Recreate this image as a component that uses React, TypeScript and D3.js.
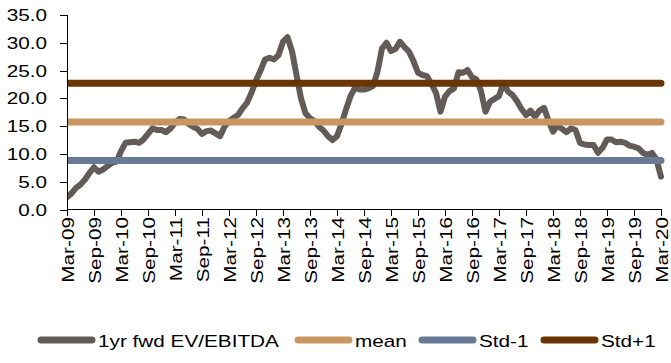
import React from "react";
import * as d3 from "d3";

// Monthly 1yr forward EV/EBITDA, Mar-09 .. Mar-20
const evEbitda: number[] = [
  2.2, 2.9, 3.9, 4.5, 5.4, 6.6, 7.6, 6.8, 7.2, 7.8, 8.4, 8.6,
  10.5, 12.0, 12.1, 12.2, 12.0, 12.6, 13.6, 14.6, 14.3, 14.3, 13.9, 14.6,
  15.6, 16.3, 16.2, 15.4, 14.9, 14.5, 13.6, 14.1, 14.2, 13.7, 13.2, 14.9,
  15.9, 16.5, 17.0, 18.2, 19.2, 21.0, 23.2, 25.0, 27.0, 27.3, 27.0, 27.8,
  30.2, 31.0, 28.5, 24.2, 20.0, 17.3, 16.4, 15.9, 14.9, 14.2, 13.2, 12.5,
  13.2, 15.4, 18.0, 20.4, 21.9, 21.6, 21.6, 21.8, 22.2, 24.8, 29.0, 30.0,
  28.5, 28.9, 30.2, 29.2, 28.4, 26.7, 24.6, 24.2, 24.0, 22.6, 21.0, 17.6,
  20.3, 21.3, 21.8, 24.7, 24.6, 25.1, 23.8, 23.4, 21.3, 17.6, 19.4, 19.9,
  20.4, 22.8, 21.2, 20.6, 19.5, 18.1, 17.0, 17.8, 16.7, 17.8, 18.3, 16.0,
  14.0, 15.1, 14.5, 13.9, 14.6, 14.3, 12.0, 11.7, 11.6, 11.6, 10.2, 11.1,
  12.6, 12.6, 12.1, 12.2, 12.0, 11.5, 11.3, 11.0, 10.2, 9.8, 10.2, 9.0,
  5.9,
];

const meanValue = 15.75;
const stdMinusValue = 8.8;
const stdPlusValue = 22.7;

const xTickLabels: string[] = [
  "Mar-09", "Sep-09", "Mar-10", "Sep-10", "Mar-11", "Sep-11", "Mar-12", "Sep-12",
  "Mar-13", "Sep-13", "Mar-14", "Sep-14", "Mar-15", "Sep-15", "Mar-16", "Sep-16",
  "Mar-17", "Sep-17", "Mar-18", "Sep-18", "Mar-19", "Sep-19", "Mar-20",
];

const yTicks: number[] = [0, 5, 10, 15, 20, 25, 30, 35];

const seriesNames: string[] = ["1yr fwd EV/EBITDA", "mean", "Std-1", "Std+1"];
const seriesColors: string[] = ["#635B57", "#C99661", "#687A96", "#6A3500"];

const W = 671;
const H = 363;
const FONT = "'Liberation Sans', Arial, sans-serif";
const FS = 17;
const STRETCH = 1.22;

export default function App() {
  const x = d3.scaleLinear().domain([0, evEbitda.length - 1]).range([67, 661]);
  const y = d3.scaleLinear().domain([0, 35]).range([209.5, 15]);

  const line = d3
    .line<number>()
    .x((_, i) => x(i))
    .y((d) => y(d));

  const flatLine = (v: number) =>
    line(evEbitda.map(() => v)) as string;

  const levels = [meanValue, stdMinusValue, stdPlusValue];

  const legendX = [38, 295, 419, 541];
  const legendY = 340;

  return (
    <svg
      width={W}
      height={H}
      style={{ position: "absolute", left: 0, top: 0, background: "#fff" }}
      fontFamily={FONT}
    >
      <defs>
        <clipPath id="plot-clip">
          <rect x={67} y={0} width={W - 67} height={215} />
        </clipPath>
      </defs>

      <g clipPath="url(#plot-clip)">
        <path
          d={line(evEbitda) as string}
          fill="none"
          stroke={seriesColors[0]}
          strokeWidth={6}
          strokeLinejoin="round"
          strokeLinecap="round"
        />
        {levels.map((v, k) => (
          <path
            key={k}
            d={flatLine(v)}
            fill="none"
            stroke={seriesColors[k + 1]}
            strokeWidth={7}
            strokeLinecap="round"
          />
        ))}
      </g>

      {/* y axis */}
      <line x1={67.5} x2={67.5} y1={y(35)} y2={y(0)} stroke="#000" strokeWidth={1} />
      {yTicks.map((t) => (
        <g key={t}>
          <line x1={60} x2={67.5} y1={Math.round(y(t)) + 0.5} y2={Math.round(y(t)) + 0.5} stroke="#000" />
          <text
            transform={`translate(47,${y(t)}) scale(${STRETCH},1)`}
            textAnchor="end"
            dy="0.36em"
            fontSize={FS}
            fill="#000"
          >
            {t.toFixed(1)}
          </text>
        </g>
      ))}

      {/* x axis */}
      <line x1={67} x2={662} y1={209.5} y2={209.5} stroke="#000" strokeWidth={1} />
      {xTickLabels.map((lab, k) => {
        const xi = Math.round(x(k * 6)) + 0.5;
        return (
          <g key={lab}>
            <line x1={xi} x2={xi} y1={209.5} y2={216} stroke="#000" />
            <text
              transform={`translate(${xi},217) rotate(-90) scale(${STRETCH},1)`}
              textAnchor="end"
              dy="0.36em"
              fontSize={FS}
              fill="#000"
            >
              {lab}
            </text>
          </g>
        );
      })}

      {/* legend */}
      {seriesNames.map((name, k) => (
        <g key={name}>
          <line
            x1={legendX[k] + 3}
            x2={legendX[k] + 54}
            y1={legendY}
            y2={legendY}
            stroke={seriesColors[k]}
            strokeWidth={7}
            strokeLinecap="round"
          />
          <text
            transform={`translate(${legendX[k] + 60},${legendY + 1}) scale(${STRETCH},1)`}
            dy="0.36em"
            fontSize={FS}
            fill="#000"
          >
            {name}
          </text>
        </g>
      ))}
    </svg>
  );
}
